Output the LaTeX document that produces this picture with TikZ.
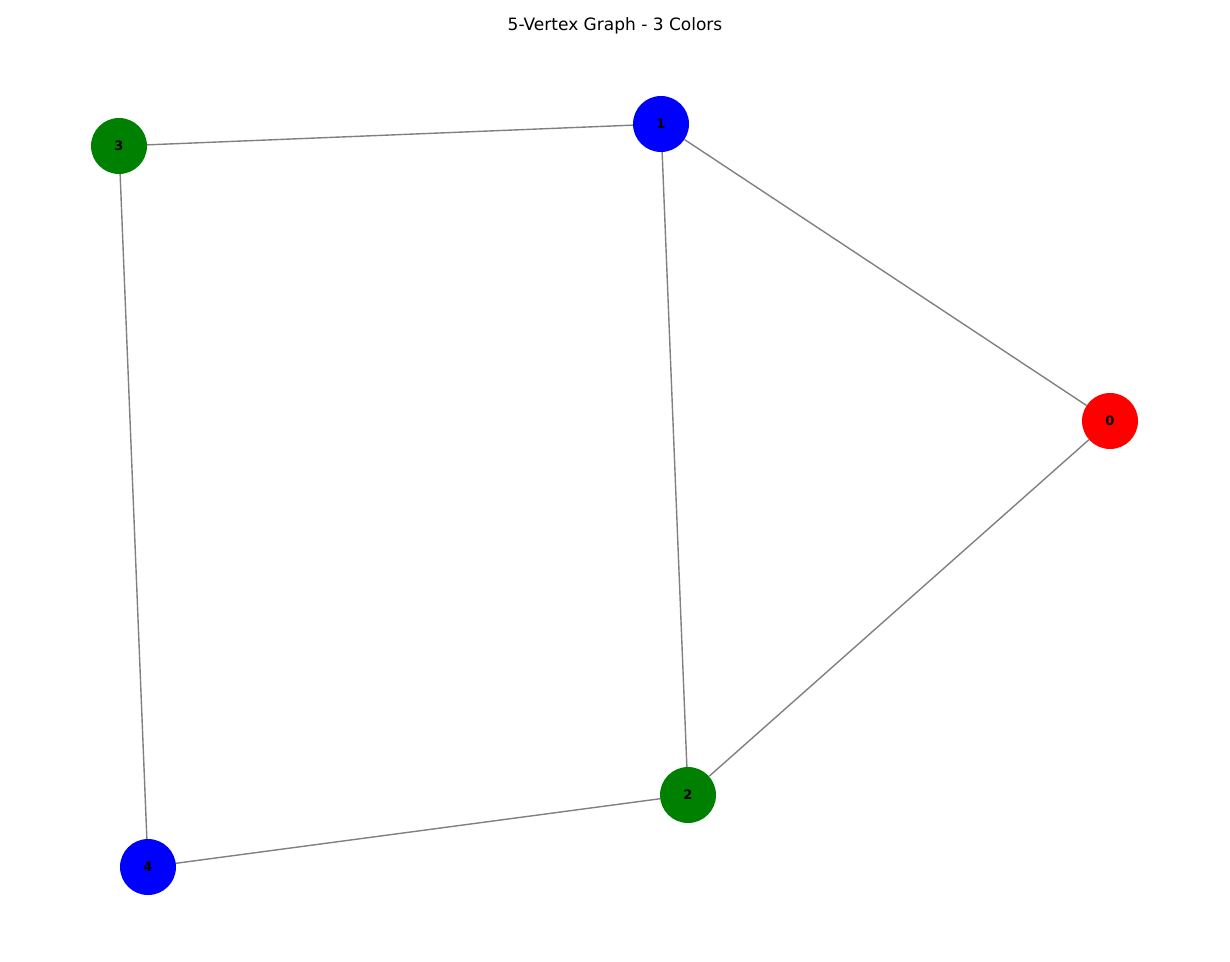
\documentclass[tikz,border=0pt]{standalone}
\usepackage{fontspec}
\setmainfont{DejaVu Sans}
\begin{document}
\begin{tikzpicture}[x=1pt,y=-1pt,
  vtx/.style={circle,minimum size=56pt,inner sep=0pt,font=\bfseries\fontsize{13}{13}\selectfont,text=black},
  edge/.style={draw=gray,line width=1.4pt}]
\useasboundingbox (0,0) rectangle (1230,961);
\node[font=\fontsize{17}{17}\selectfont] (title) at (615,26) {5-Vertex Graph - 3 Colors};
\node[vtx,fill=red] (n0) at (1110,421) {0};
\node[vtx,fill=blue] (n1) at (661,124) {1};
\node[vtx,fill={rgb,255:red,0;green,128;blue,0}] (n2) at (688,795) {2};
\node[vtx,fill={rgb,255:red,0;green,128;blue,0}] (n3) at (119,146) {3};
\node[vtx,fill=blue] (n4) at (148,867) {4};
\begin{scope}[on background layer/.style={}]
\end{scope}
\draw[edge] (n3) -- (n1);
\draw[edge] (n1) -- (n0);
\draw[edge] (n1) -- (n2);
\draw[edge] (n0) -- (n2);
\draw[edge] (n2) -- (n4);
\draw[edge] (n3) -- (n4);
\end{tikzpicture}
\end{document}
